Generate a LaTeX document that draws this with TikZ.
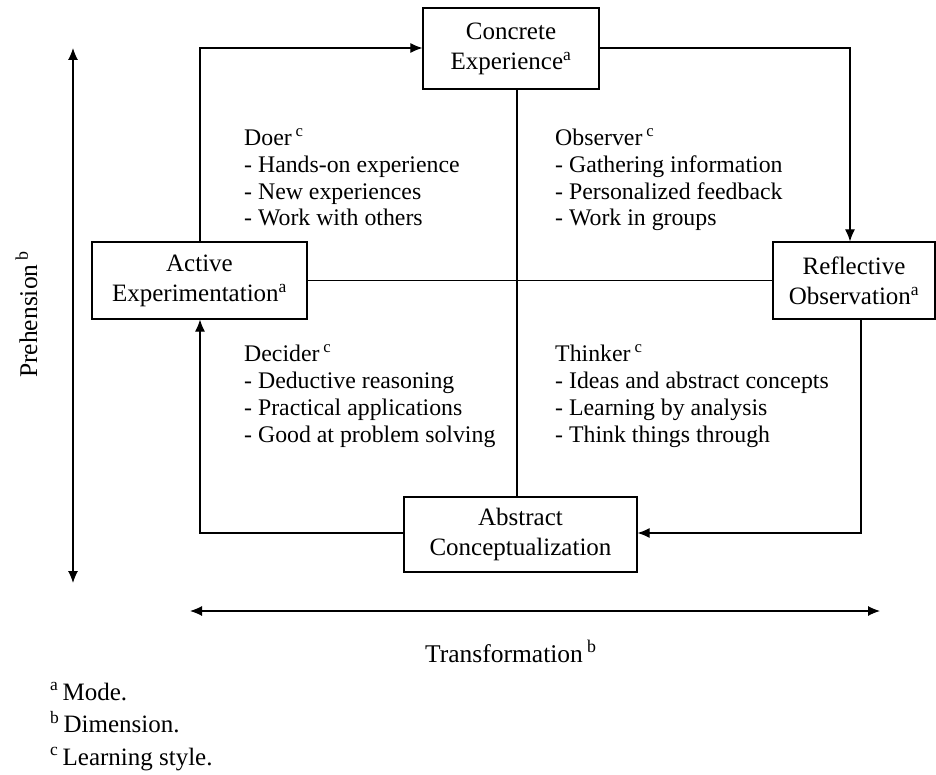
\documentclass[tikz,border=0pt]{standalone}
\usepackage{fontspec}
\setmainfont{Liberation Serif}
\usetikzlibrary{arrows.meta}
\begin{document}
\begin{tikzpicture}[x=1pt,y=-1pt,
  box/.style={draw, line width=1.2pt, inner sep=0pt, align=center, font=\fontsize{25}{30}\selectfont},
  lst/.style={anchor=base west, align=left, inner sep=0pt, font=\fontsize{23.8}{26.7}\selectfont},
  conn/.style={line width=1.1pt},
  arr/.style={line width=1.1pt, -{Latex[length=12pt,width=10pt]}},
  darr/.style={line width=1.1pt, {Latex[length=12pt,width=10pt]}-{Latex[length=12pt,width=10pt]}},
  lbl/.style={inner sep=0pt, font=\fontsize{25.5}{30}\selectfont}]
\useasboundingbox (0,0) rectangle (936,775);
% boxes
\node[box, minimum width=176pt, minimum height=81pt] (ce) at (511,48.5) {Concrete\\Experience\textsuperscript{a}};
\node[box, minimum width=215pt, minimum height=77pt] (ae) at (199.5,280.5) {Active\\Experimentation\textsuperscript{a}};
\node[box, minimum width=162pt, minimum height=77pt] (ro) at (854,280.5) {Reflective\\Observation\textsuperscript{a}};
\node[box, minimum width=233pt, minimum height=75pt] (ac) at (520.5,534.5) {Abstract\\Conceptualization};
% cross lines
\coordinate (vtop) at (517,89);
\coordinate (vbot) at (517,497);
\draw[conn] (vtop) -- (vbot);
\draw[conn] (ae.east) -- (ro.west);
% cycle arrows
\coordinate (c1) at (200,48);
\coordinate (c2) at (850,48);
\coordinate (c3) at (861,533);
\coordinate (c4) at (200,533);
\draw[arr] (ae.north -| c1) -- (c1) -- (ce.west |- c1);
\draw[arr] (ce.east |- c2) -- (c2) -- (ro.north -| c2);
\draw[arr] (ro.south -| c3) -- (c3) -- (ac.east |- c3);
\draw[arr] (ac.west |- c4) -- (c4) -- (ae.south -| c4);
% dimension arrows
\coordinate (p1) at (73,48);
\coordinate (p2) at (73,583);
\draw[darr] (p1) -- (p2);
\coordinate (t1) at (190,611);
\coordinate (t2) at (880,611);
\draw[darr] (t1) -- (t2);
\node[lbl, rotate=90, anchor=base west] (prehension) at (37,378) {Prehension\,\textsuperscript{b}};
\node[lbl, anchor=base west] (transformation) at (425,662) {Transformation\,\textsuperscript{b}};
% learning styles
\node[lst] (doer) at (244,226) {Doer\,\textsuperscript{c}\\- Hands-on experience\\- New experiences\\- Work with others};
\node[lst] (observer) at (555,226) {Observer\,\textsuperscript{c}\\- Gathering information\\- Personalized feedback\\- Work in groups};
\node[lst] (decider) at (244,442) {Decider\,\textsuperscript{c}\\- Deductive reasoning\\- Practical applications\\- Good at problem solving};
\node[lst] (thinker) at (555,442) {Thinker\,\textsuperscript{c}\\- Ideas and abstract concepts\\- Learning by analysis\\- Think things through};
% footnotes
\node[lst, font=\fontsize{25}{32.5}\selectfont] (notes) at (50,765) {\textsuperscript{a}\,Mode.\\\textsuperscript{b}\,Dimension.\\\textsuperscript{c}\,Learning style.};
\end{tikzpicture}
\end{document}
